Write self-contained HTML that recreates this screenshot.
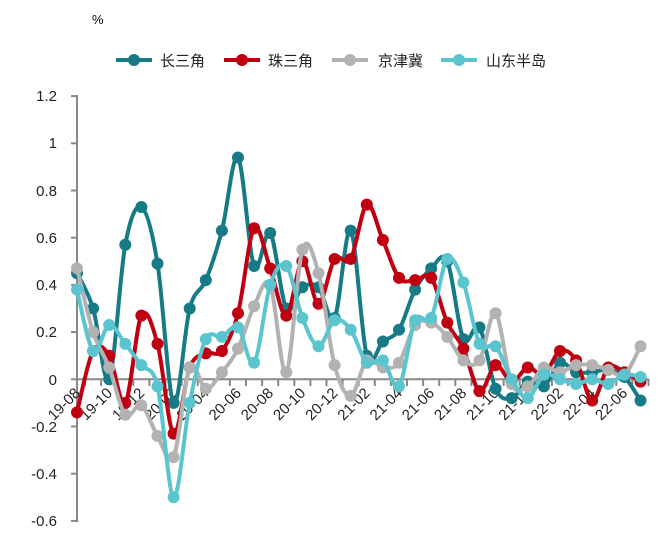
<!DOCTYPE html>
<html><head><meta charset="utf-8"><style>
body{margin:0;background:#fff;width:672px;height:555px;overflow:hidden}
svg text{font-family:"Liberation Sans","Noto Sans CJK SC",sans-serif}
</style></head><body>
<svg id="s" width="672" height="555" xmlns="http://www.w3.org/2000/svg">
<text x="92" y="24" font-size="13">%</text>
<g font-size="15" fill="#222">
<line x1="116" y1="60" x2="152" y2="60" stroke="#177b87" stroke-width="4"/><circle cx="134" cy="60" r="6" fill="#177b87"/><text x="160" y="66">长三角</text>
<line x1="224" y1="60" x2="260" y2="60" stroke="#c00010" stroke-width="4"/><circle cx="242" cy="60" r="6" fill="#c00010"/><text x="268" y="66">珠三角</text>
<line x1="332" y1="60" x2="368" y2="60" stroke="#b2b2b2" stroke-width="4"/><circle cx="350" cy="60" r="6" fill="#b2b2b2"/><text x="378" y="66">京津冀</text>
<line x1="441" y1="60" x2="477" y2="60" stroke="#5bc5cf" stroke-width="4"/><circle cx="459" cy="60" r="6" fill="#5bc5cf"/><text x="486" y="66">山东半岛</text>
</g>
<g font-size="15" fill="#222" text-anchor="end">
<text x="57" y="101">1.2</text><text x="57" y="148">1</text><text x="57" y="196">0.8</text><text x="57" y="243">0.6</text><text x="57" y="290">0.4</text><text x="57" y="337">0.2</text><text x="57" y="385">0</text><text x="57" y="432">-0.2</text><text x="57" y="479">-0.4</text><text x="57" y="526">-0.6</text>
</g>
<g id="ax" stroke="#888" stroke-width="2"></g>
<g id="xl" font-size="15" fill="#222"></g>
<g id="ln"></g>
</svg>
<script>
var X=i=>77+i*16.1, Y=v=>379.3-v*236;
var ns="http://www.w3.org/2000/svg";
function el(t,a,p){var e=document.createElementNS(ns,t);for(var k in a)e.setAttribute(k,a[k]);p.appendChild(e);return e;}
var ax=document.getElementById('ax');
el('line',{x1:77,y1:95,x2:77,y2:522},ax);
for(var k=0;k<10;k++)el('line',{x1:71,y1:Y(1.2-k*0.2),x2:77,y2:Y(1.2-k*0.2)},ax);
el('line',{x1:77,y1:379.3,x2:649,y2:379.3},ax);
for(var i=0;i<=35;i++)el('line',{x1:X(i)+8,y1:379,x2:X(i)+8,y2:386},ax);
var labs=["19-08","19-10","19-12","20-02","20-04","20-06","20-08","20-10","20-12","21-02","21-04","21-06","21-08","21-10","21-12","22-02","22-04","22-06"];
var xl=document.getElementById('xl');
labs.forEach(function(l,j){var x=X(j*2)+4,y=394;var t=el('text',{x:x,y:y,'text-anchor':'end',transform:'rotate(-45 '+x+' '+y+')'},xl);t.textContent=l;});
var D=[
["#177b87",[0.45,0.3,0.0,0.57,0.73,0.49,-0.1,0.3,0.42,0.63,0.94,0.48,0.62,0.3,0.39,0.39,0.26,0.63,0.1,0.16,0.21,0.38,0.47,0.5,0.17,0.22,-0.04,-0.08,-0.01,-0.03,0.07,0.03,0.03,0.04,0.01,-0.09]],
["#c00010",[-0.14,0.12,0.1,-0.1,0.27,0.15,-0.23,0.05,0.11,0.12,0.28,0.64,0.47,0.27,0.5,0.32,0.51,0.51,0.74,0.59,0.43,0.42,0.43,0.24,0.13,-0.05,0.06,-0.01,0.05,0.02,0.12,0.08,-0.09,0.05,0.03,-0.01]],
["#b2b2b2",[0.47,0.2,0.05,-0.15,-0.11,-0.24,-0.33,0.05,-0.04,0.03,0.13,0.31,0.4,0.03,0.55,0.45,0.06,-0.07,0.08,0.05,0.07,0.23,0.24,0.18,0.08,0.08,0.28,-0.02,-0.03,0.05,0.03,0.06,0.06,0.04,0.02,0.14]],
["#5bc5cf",[0.38,0.12,0.23,0.15,0.06,-0.03,-0.5,-0.1,0.17,0.18,0.22,0.07,0.4,0.48,0.26,0.14,0.25,0.21,0.07,0.08,-0.03,0.25,0.26,0.51,0.41,0.15,0.14,0.0,-0.08,0.02,0.0,-0.02,0.0,-0.02,0.02,0.01]]];
var ln=document.getElementById('ln');
D.forEach(function(s){var c=s[0],v=s[1],p=v.map((d,i)=>[X(i),Y(d)]);
var d="M"+p[0][0]+","+p[0][1];
for(var i=0;i<p.length-1;i++){var p0=p[i-1]||p[i],p1=p[i],p2=p[i+1],p3=p[i+2]||p2,t=6;
d+="C"+(p1[0]+(p2[0]-p0[0])/t)+","+(p1[1]+(p2[1]-p0[1])/t)+" "+(p2[0]-(p3[0]-p1[0])/t)+","+(p2[1]-(p3[1]-p1[1])/t)+" "+p2[0]+","+p2[1];}
el('path',{d:d,fill:'none',stroke:c,'stroke-width':4},ln);
p.forEach(q=>el('circle',{cx:q[0],cy:q[1],r:6,fill:c},ln));});
</script>
</body></html>
